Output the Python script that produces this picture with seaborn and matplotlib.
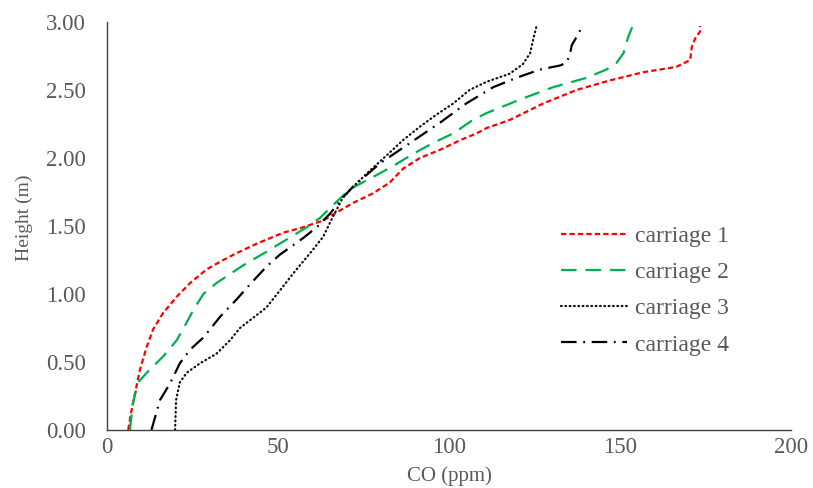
import matplotlib
matplotlib.use("Agg")
import matplotlib.pyplot as plt
import seaborn as sns
import pandas as pd

# carriage 1
c1_co = [6.2, 7.0, 8.2, 9.6, 11.6, 13.5, 16.4, 20.4, 24.3, 29.1, 34, 37.9, 43.8, 51.5, 57.3, 63.2,
         66.5, 72, 77.8, 82.7, 86.5, 91.5, 97.4, 103.2, 108, 111, 117.8, 127.5, 137.3, 147, 156.7,
         166.5, 170.5, 171, 172, 173.4, 173.4]
c1_h = [0, 0.12, 0.27, 0.44, 0.61, 0.74, 0.86, 0.98, 1.08, 1.18, 1.25, 1.3, 1.37, 1.45, 1.49, 1.54,
        1.59, 1.67, 1.74, 1.82, 1.92, 2.0, 2.06, 2.13, 2.18, 2.22, 2.28, 2.4, 2.5, 2.57, 2.63,
        2.67, 2.72, 2.82, 2.88, 2.93, 2.97]
# carriage 2
c2_co = [6.7, 7.6, 9.1, 11.6, 16.4, 20.4, 23.3, 25.2, 28.2, 32, 36.8, 39.8, 46.6, 52.5, 58.4, 62.3,
         67.2, 71, 77.8, 83.6, 89.5, 95.3, 101.2, 107, 111, 120.8, 130.4, 140.3, 146, 149, 151,
         152.4, 154]
c2_h = [0, 0.2, 0.35, 0.42, 0.54, 0.66, 0.79, 0.88, 1.0, 1.08, 1.16, 1.21, 1.31, 1.4, 1.49, 1.56,
        1.68, 1.77, 1.86, 1.94, 2.03, 2.11, 2.18, 2.28, 2.33, 2.43, 2.52, 2.59, 2.65, 2.7, 2.77,
        2.89, 2.99]
# carriage 3
c3_co = [19.9, 20.2, 21.3, 23.3, 27.2, 32, 36, 38.9, 46.6, 51, 55.4, 59.4, 63.2, 65.5, 69, 72, 77,
         81.8, 86.5, 91.5, 96.4, 101.2, 106, 111, 117.8, 121.6, 123.7, 124.6, 125.6]
c3_h = [0, 0.22, 0.35, 0.42, 0.49, 0.56, 0.66, 0.75, 0.9, 1.04, 1.18, 1.3, 1.42, 1.54, 1.71, 1.79, 1.91,
        2.02, 2.13, 2.23, 2.32, 2.4, 2.5, 2.56, 2.62, 2.69, 2.77, 2.87, 2.97]
# carriage 4
c4_co = [13, 15.5, 18.4, 21.3, 24.3, 28.2, 33, 37.9, 41.8, 46.6, 50.6, 57.3, 61.3, 65.2, 69, 72, 79.8,
         88.6, 97.4, 105, 112.9, 119.8, 126.6, 132.5, 134.4, 135.4, 135.9, 137.3, 139.2]
c4_h = [0, 0.22, 0.34, 0.49, 0.59, 0.68, 0.83, 0.96, 1.07, 1.2, 1.29, 1.41, 1.49, 1.59, 1.71, 1.79, 1.96,
        2.11, 2.26, 2.4, 2.52, 2.59, 2.65, 2.68, 2.7, 2.77, 2.83, 2.89, 2.98]

labels = ["carriage 1", "carriage 2", "carriage 3", "carriage 4"]
xticks = [0, 50, 100, 150, 200]
yticks = [0.0, 0.5, 1.0, 1.5, 2.0, 2.5, 3.0]

sns.set_theme(style="white")
plt.rcParams['font.family'] = ['Liberation Serif', 'DejaVu Serif']

fig = plt.figure(figsize=(8.13, 4.88), dpi=100)
ax = fig.add_axes([0.1316, 0.119, 0.973 - 0.1316, 0.955 - 0.119])

series = [(c1_co, c1_h), (c2_co, c2_h), (c3_co, c3_h), (c4_co, c4_h)]
colors = ["#FF0000", "#00B050", "#111111", "#000000"]
dash_styles = [(0, (2.4, 1.4)), (0, (7, 4)), (0, (0.35, 1.6)), (0, (7, 3, 0.8, 3))]
lws = [1.6, 1.6, 1.6, 1.6]

handles = []
for (co, h), lab, col, ds, lw in zip(series, labels, colors, dash_styles, lws):
    df = pd.DataFrame({"CO": co, "H": h})
    sns.lineplot(data=df, x="CO", y="H", sort=False, estimator=None, ax=ax,
                 color=col, lw=lw, label=lab)
    line = ax.get_lines()[-1]
    line.set_linestyle(ds)
    line.set_solid_joinstyle("round")
    line.set_dash_joinstyle("round")
    if lab == "carriage 3":
        line.set_dash_capstyle("round")
    handles.append(line)

ax.set_xlim(0, 200)
ax.set_ylim(0, 3.0)
ax.set_xticks(xticks)
ax.set_xticklabels([str(t) for t in xticks])
ax.set_yticks(yticks)
ax.set_yticklabels([f"{t:.2f}" for t in yticks])
ax.tick_params(axis="both", length=0, labelsize=16.5, labelcolor="#595959")
ax.tick_params(axis="y", pad=15)
ax.tick_params(axis="x", pad=5)
for s in ["top", "right"]:
    ax.spines[s].set_visible(False)
for s in ["left", "bottom"]:
    ax.spines[s].set_color("#404040")
    ax.spines[s].set_linewidth(1.0)
ax.grid(False)

ax.set_xlabel("CO (ppm)", fontsize=15, color="#595959", labelpad=6)
ax.set_ylabel("Height (m)", fontsize=14, color="#595959")
ax.yaxis.set_label_coords(-0.108, 0.52)

leg = ax.legend(handles=handles, labels=labels, loc="upper left",
                bbox_to_anchor=(0.647, 0.53), frameon=False, fontsize=17,
                handlelength=2.8, labelspacing=0.62, handletextpad=0.3, borderpad=0)
for t in leg.get_texts():
    t.set_color("#595959")

fig.savefig("out.png", dpi=100)
